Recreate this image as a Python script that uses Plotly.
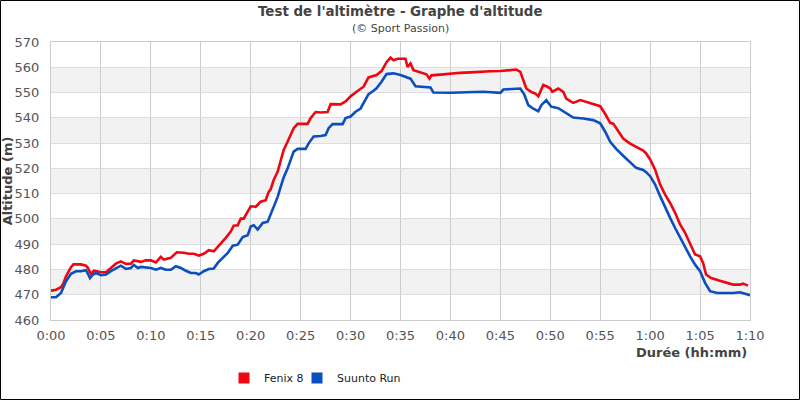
import plotly.graph_objects as go

# ---------------- data (minutes, metres) ----------------
fenix_t = [0, 0.5, 1, 1.25, 1.5, 1.75, 2, 2.25, 3, 3.5, 3.7, 3.9, 4, 4.3, 5, 5.5, 6, 6.5, 7, 7.5,
           8, 8.3, 9, 9.5, 10, 10.5, 11, 11.3, 12, 12.6, 13.3, 13.8, 14.3, 14.8, 15.3, 15.8, 16.3,
           16.6, 17, 17.5, 18, 18.3, 18.7, 19, 19.3, 19.7, 20, 20.5, 21, 21.5, 21.8, 22, 22.3, 22.7,
           23, 23.3, 23.7, 24, 24.3, 24.7, 25.7, 26, 26.5, 27, 27.7, 28, 29, 29.5, 30, 30.6, 31.3,
           31.8, 32.3, 32.6, 33.1, 33.6, 34, 34.3, 34.7, 35.5, 35.7, 36, 36.3, 37, 37.6, 37.9, 38.1,
           39, 40, 41, 42, 43, 44, 45, 46, 46.6, 47, 47.4, 47.6, 48.1, 48.5, 48.8, 49.1, 49.3, 49.6,
           50, 50.2, 50.8, 51.3, 51.6, 52, 52.3, 53, 53.6, 54.3, 55, 55.5, 56, 56.3, 56.8, 57.3, 58,
           58.6, 59.3, 59.6, 60, 60.5, 61, 61.5, 62, 62.5, 63, 63.5, 64, 64.5, 65, 65.3, 65.6, 66.1,
           66.9, 67.6, 68.3, 69, 69.3, 69.8]
fenix_alt = [471.6, 472, 473, 474.6, 477.3, 479.3, 480.9, 482, 482, 481.5, 480.6, 478.9, 478.3, 479.5,
             478.9, 478.9, 480.6, 482.3, 483.2, 482.2, 482.3, 483.6, 483, 483.6, 483.6, 482.8, 485,
             483.9, 484.6, 486.8, 486.6, 486.2, 486.2, 485.5, 486.2, 487.6, 487.2, 488.5, 490.2, 492.5,
             495, 497.3, 497.5, 500.1, 500.1, 502.8, 505, 504.8, 506.8, 507.4, 510.7, 511.7, 515.4,
             518.7, 523.3, 527.3, 530.6, 533.2, 535.9, 537.6, 537.6, 539.9, 542.3, 542.1, 542.3, 545.4,
             545.3, 546.5, 548.5, 550.3, 552.3, 556, 556.5, 556.9, 558.5, 562, 563.8, 562.8, 563.4,
             563.4, 560.1, 561.5, 558.8, 557.8, 557.2, 555.5, 556.8, 557.1, 557.5, 557.8, 558, 558.3,
             558.4, 558.5, 558.7, 559.1, 558.2, 553.5, 551.6, 550.2, 549.6, 548.5, 550.9, 553, 552.5,
             551.6, 550.3, 551.6, 550.3, 547.6, 546.6, 545.9, 547, 546.3, 545.4, 544.6, 541.5, 538,
             537.7, 534.6, 531.8, 529.8, 528.5, 527, 525.9, 523.5, 519.5, 513.6, 509.6, 506.3, 502.4,
             497.8, 494.5, 490.5, 485.9, 485.2, 482.6, 478, 476.6, 475.6, 474.9, 474, 474, 474.4, 473.6]

suunto_t = [0, 0.5, 1, 1.5, 2, 2.5, 3, 3.5, 3.7, 3.9, 4.2, 4.5, 5, 5.5, 6, 6.5, 7, 7.5, 8, 8.3, 8.7,
            9, 10, 10.5, 11, 11.5, 12, 12.5, 13, 13.5, 14, 14.5, 14.8, 15.3, 15.8, 16.3, 16.7, 17.2,
            17.7, 18.2, 18.7, 19.2, 19.7, 20, 20.3, 20.7, 21.2, 21.7, 22, 22.3, 22.7, 23, 23.3, 23.7,
            24, 24.3, 24.7, 25.5, 25.8, 26.3, 27, 27.5, 27.8, 28.2, 29.2, 29.5, 30, 30.5, 31, 31.5,
            31.8, 32.3, 32.6, 33.1, 33.6, 34.3, 35, 36, 36.5, 38, 38.3, 40, 41.6, 43.3, 45, 45.3, 47,
            47.4, 47.8, 48.3, 48.8, 49.1, 49.6, 50.1, 50.8, 51.6, 52.3, 53.3, 54.3, 55, 55.5, 56,
            56.6, 57.3, 58, 58.6, 59.3, 59.6, 60, 60.5, 61, 61.5, 62, 62.5, 63, 63.5, 64, 64.5, 65,
            65.5, 66, 66.7, 68.3, 69, 69.7, 70]
suunto_alt = [469, 469, 470.7, 475.3, 478.3, 479.3, 479.3, 479.7, 478.3, 476.6, 478, 478.6, 477.7, 478,
              479.3, 480.3, 481.5, 480.2, 480.6, 481.8, 480.6, 481, 480.6, 479.9, 480.6, 479.9, 479.9,
              481.3, 480.6, 479.5, 478.6, 478.6, 478, 479.3, 480.2, 480.4, 482.6, 484.6, 486.5, 489.4,
              489.8, 492.8, 493.5, 497, 497.5, 495.8, 498.4, 498.9, 501.8, 504.8, 508.7, 512.7, 516.4,
              520, 523.3, 526.6, 527.7, 527.7, 529.9, 532.6, 532.8, 533.2, 535.9, 537.5, 537.5, 539.9,
              540.5, 542.4, 543.7, 547, 549.4, 550.7, 551.7, 554.3, 557.3, 557.6, 556.9, 555.5, 552.5,
              552, 550, 549.9, 550, 550.3, 549.9, 551.2, 551.6, 549.2, 545, 543.6, 542.6, 545, 547,
              544.4, 543.8, 541.7, 540.1, 539.7, 539.1, 537.8, 534.5, 530.5, 527.7, 525, 522.4, 520.2,
              519.4, 518.5, 516.9, 513.6, 509, 504.4, 500.4, 496.4, 492.5, 489.2, 485.2, 481.9, 479.3,
              474.7, 471.4, 470.7, 470.7, 471, 470.1, 469.8]

series_names = ["Fenix 8", "Suunto Run"]
x_tick_vals = [0, 5, 10, 15, 20, 25, 30, 35, 40, 45, 50, 55, 60, 65, 70]
x_tick_text = ["0:00", "0:05", "0:10", "0:15", "0:20", "0:25", "0:30", "0:35", "0:40", "0:45",
               "0:50", "0:55", "1:00", "1:05", "1:10"]
y_tick_vals = [460, 470, 480, 490, 500, 510, 520, 530, 540, 550, 560, 570]

# ---------------- styles ----------------
RED = "#ee0612"
BLUE = "#0a4ebf"
FONT = "DejaVu Sans"
W, H = 800, 400
ML, MR, MT, MB = 51, 50, 42, 80
PW, PH = W - ML - MR, H - MT - MB

fig = go.Figure()
for t, a, name, col in [(fenix_t, fenix_alt, series_names[0], RED),
                        (suunto_t, suunto_alt, series_names[1], BLUE)]:
    fig.add_trace(go.Scatter(x=t, y=a, mode="lines", line=dict(color=col, width=2.6),
                             showlegend=False, hoverinfo="skip"))
for name, col, lg in zip(series_names, [RED, BLUE], ["legend", "legend2"]):
    fig.add_trace(go.Scatter(x=[None], y=[None], mode="markers", name=name, legend=lg,
                             marker=dict(symbol="square", size=11, color=col)))

# alternating grey bands
for lo in [470, 490, 510, 530, 550]:
    fig.add_shape(type="rect", xref="paper", yref="y", x0=0, x1=1, y0=lo, y1=lo + 10,
                  fillcolor="#f2f2f2", line_width=0, layer="below")

# outer black frame
fig.add_shape(type="rect", xref="paper", yref="paper",
              x0=(-ML + 0.5) / PW, x1=(PW + MR - 0.5) / PW,
              y0=(-MB + 0.5) / PH, y1=(PH + MT - 0.5) / PH,
              line=dict(color="black", width=1), fillcolor="rgba(0,0,0,0)")

legend_common = dict(orientation="h", xanchor="left", y=-(378 - 320) / PH, yanchor="middle",
                     font=dict(family=FONT, size=11, color="#222"), itemwidth=30,
                     bgcolor="rgba(0,0,0,0)")

fig.update_layout(
    width=W, height=H,
    margin=dict(l=ML, r=MR, t=MT, b=MB, autoexpand=False),
    paper_bgcolor="white", plot_bgcolor="white",
    font=dict(family=FONT, size=12, color="#555"),
    showlegend=True,
    legend=dict(x=(224 - ML) / PW, **legend_common),
    legend2=dict(x=(297 - ML) / PW, **legend_common),
    xaxis=dict(range=[0, 70], tickmode="array", tickvals=x_tick_vals, ticktext=x_tick_text,
               automargin=False,
               showgrid=True, gridcolor="#cccccc", gridwidth=1, zeroline=False,
               showline=True, linecolor="#cccccc", mirror=True,
               tickfont=dict(family=FONT, size=13, color="#555"), ticks="", ticklabelstandoff=3),
    yaxis=dict(range=[460, 570], tickmode="array", tickvals=y_tick_vals,
               automargin=False,
               showgrid=True, gridcolor="#dddddd", gridwidth=1, zeroline=False,
               showline=True, linecolor="#cccccc", mirror=True,
               tickfont=dict(family=FONT, size=13, color="#555"), ticks="", ticklabelstandoff=8,
               title=dict(text="<b>Altitude (m)</b>", font=dict(family=FONT, size=13, color="#444"),
                          standoff=2)),
    annotations=[
        dict(text="<b>Test de l'altimètre - Graphe d'altitude</b>", xref="paper", yref="paper",
             x=(400 - ML) / PW, y=1 + (MT - 11) / PH, xanchor="center", yanchor="middle",
             showarrow=False, font=dict(family=FONT, size=13.4, color="#444")),
        dict(text="(© Sport Passion)", xref="paper", yref="paper",
             x=(400 - ML) / PW, y=1 + (MT - 28) / PH, xanchor="center", yanchor="middle",
             showarrow=False, font=dict(family=FONT, size=11, color="#444")),
        dict(text="<b>Durée (hh:mm)</b>", xref="paper", yref="paper",
             x=(749 - ML) / PW, y=-(352 - 320) / PH, xanchor="right", yanchor="middle",
             showarrow=False, font=dict(family=FONT, size=13, color="#444")),
    ],
)

fig.write_html("out.html", config={"displayModeBar": False},
               post_script="document.body.style.margin='0';")
